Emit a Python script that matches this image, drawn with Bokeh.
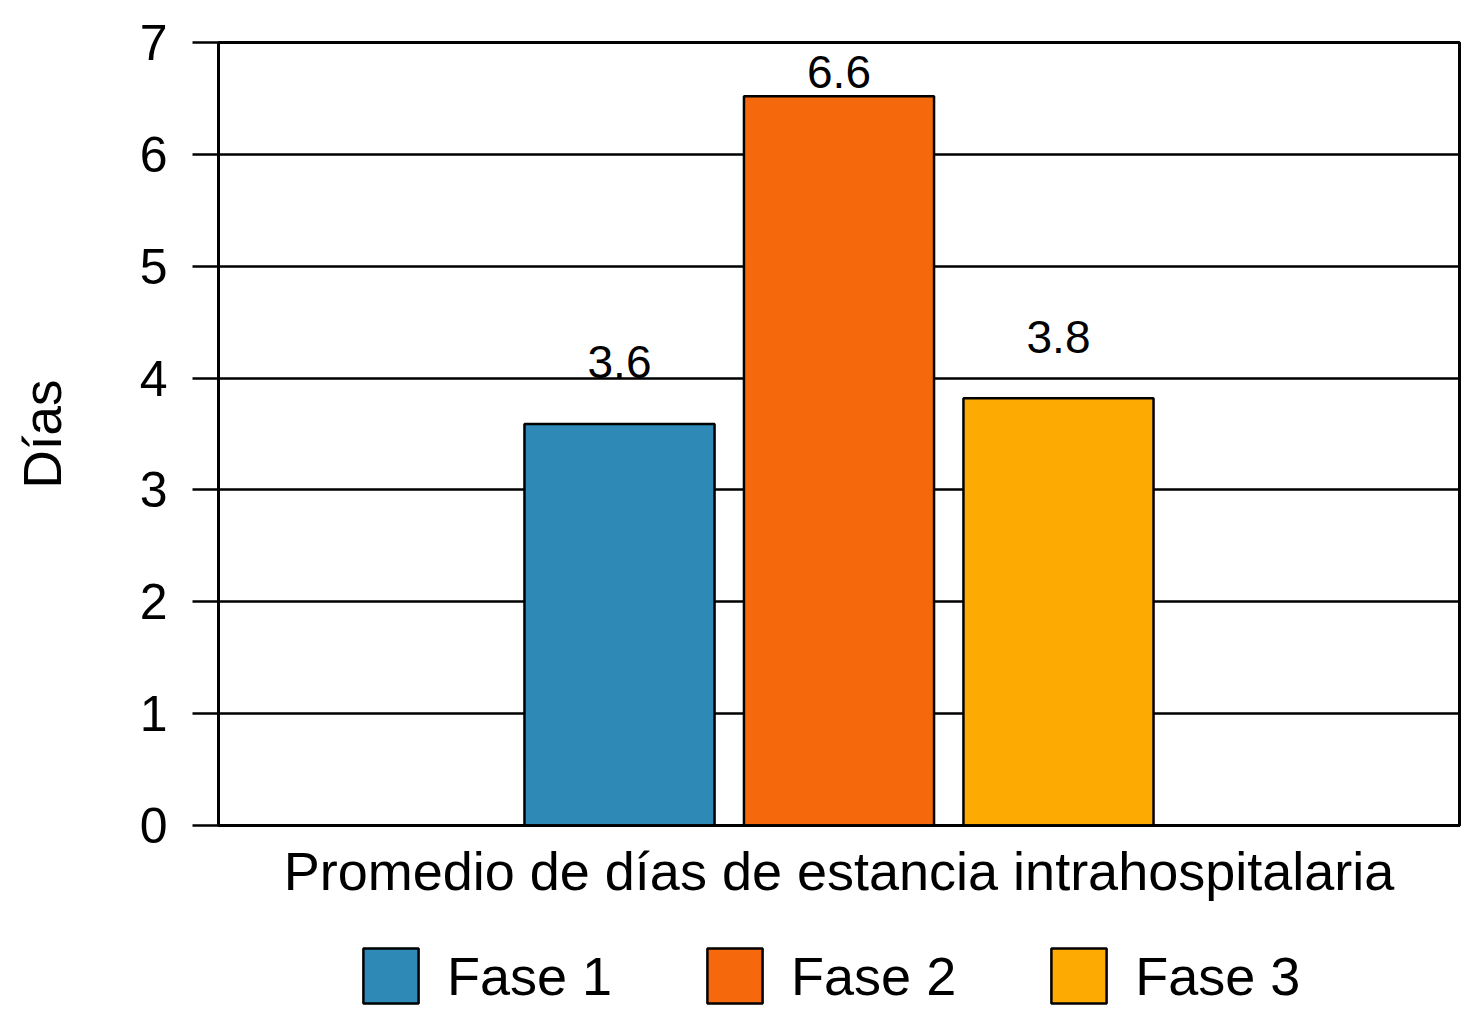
from bokeh.plotting import figure
from bokeh.layouts import column
from bokeh.models import ColumnDataSource, Legend, LegendItem, FixedTicker, Range1d
from bokeh.core.properties import value
from bokeh.embed import file_html
from bokeh.resources import INLINE

# ---- data ----
phases = ["Fase 1", "Fase 2", "Fase 3"]
days = [3.59, 6.52, 3.82]
bar_labels = ["3.6", "6.6", "3.8"]
colors = ["#2E89B6", "#F6680C", "#FDAA03"]
y_ticks = [0, 1, 2, 3, 4, 5, 6, 7]
x_title = "Promedio de días de estancia intrahospitalaria"
y_title = "Días"

FONT = "Liberation Sans"

xs = [i - 1 for i in range(len(phases))]
label_y = [min(d + 0.55, 6.74) for d in days]

src = ColumnDataSource(dict(x=xs, top=days, color=colors, phase=phases,
                            label=bar_labels, ly=label_y))

p = figure(frame_width=1241, frame_height=783, output_backend="svg", toolbar_location=None,
           x_range=Range1d(-2.827, 2.827), y_range=Range1d(0, 7),
           min_border_left=218, min_border_right=2, min_border_top=42,
           min_border_bottom=100)

p.background_fill_color = "white"
p.border_fill_color = "white"
p.outline_line_color = "black"
p.outline_line_width = 3

for i in range(len(phases)):
    p.vbar(x=[xs[i]], top=[days[i]], width=0.866, bottom=0,
           fill_color=colors[i], line_color="black", line_width=2.5)

p.text(x="x", y="ly", text="label", source=src, text_align="center",
       text_baseline="alphabetic", text_font=value(FONT),
       text_font_size="46px", text_color="black")

# grid
p.xgrid.visible = False
p.ygrid.grid_line_color = "black"
p.ygrid.grid_line_width = 2.5
p.ygrid.ticker = FixedTicker(ticks=y_ticks)
p.ygrid.level = "underlay"

# y axis
p.yaxis.ticker = FixedTicker(ticks=y_ticks)
p.yaxis.axis_line_color = "black"
p.yaxis.axis_line_width = 2.5
p.yaxis.major_tick_line_color = "black"
p.yaxis.major_tick_line_width = 2.5
p.yaxis.major_tick_out = 26
p.yaxis.major_tick_in = 0
p.yaxis.minor_tick_line_color = None
p.yaxis.major_label_text_font = FONT
p.yaxis.major_label_text_font_size = "50px"
p.yaxis.major_label_text_color = "black"
p.yaxis.major_label_standoff = 25
p.yaxis.axis_label = y_title
p.yaxis.axis_label_text_font = FONT
p.yaxis.axis_label_text_font_size = "53px"
p.yaxis.axis_label_text_font_style = "normal"
p.yaxis.axis_label_text_color = "black"
p.yaxis.axis_label_standoff = 65

# x axis
p.xaxis.ticker = FixedTicker(ticks=[])
p.xaxis.axis_line_color = "black"
p.xaxis.axis_line_width = 2.5
p.xaxis.major_tick_line_color = None
p.xaxis.minor_tick_line_color = None
p.xaxis.major_label_text_font_size = "0px"
p.xaxis.axis_label = x_title
p.xaxis.axis_label_text_font = FONT
p.xaxis.axis_label_text_font_size = "54px"
p.xaxis.axis_label_text_font_style = "normal"
p.xaxis.axis_label_text_color = "black"
p.xaxis.axis_label_standoff = 15

# ---- legend strip ----
lg = figure(width=1461, height=95, output_backend="svg", toolbar_location=None,
            x_range=Range1d(0, 1), y_range=Range1d(0, 1),
            min_border=0, outline_line_color=None)
lg.axis.visible = False
lg.grid.visible = False
items = []
for i in range(len(phases)):
    r = lg.vbar(x=[xs[i]], top=[days[i]], width=0.866, bottom=0,
                fill_color=colors[i], line_color="black", line_width=2.5,
                visible=False)
    items.append(LegendItem(label=phases[i], renderers=[r]))
legend = Legend(items=items, orientation="horizontal", location=(138, 10),
                glyph_width=69, glyph_height=69, label_standoff=22, spacing=88,
                label_height=55,
                label_text_font=FONT, label_text_font_size="54px",
                label_text_color="black", border_line_color=None,
                background_fill_alpha=0, padding=0, margin=0)
lg.add_layout(legend, "center")

layout = column(p, lg, spacing=0)
open("out.html", "w").write(file_html(layout, INLINE))
